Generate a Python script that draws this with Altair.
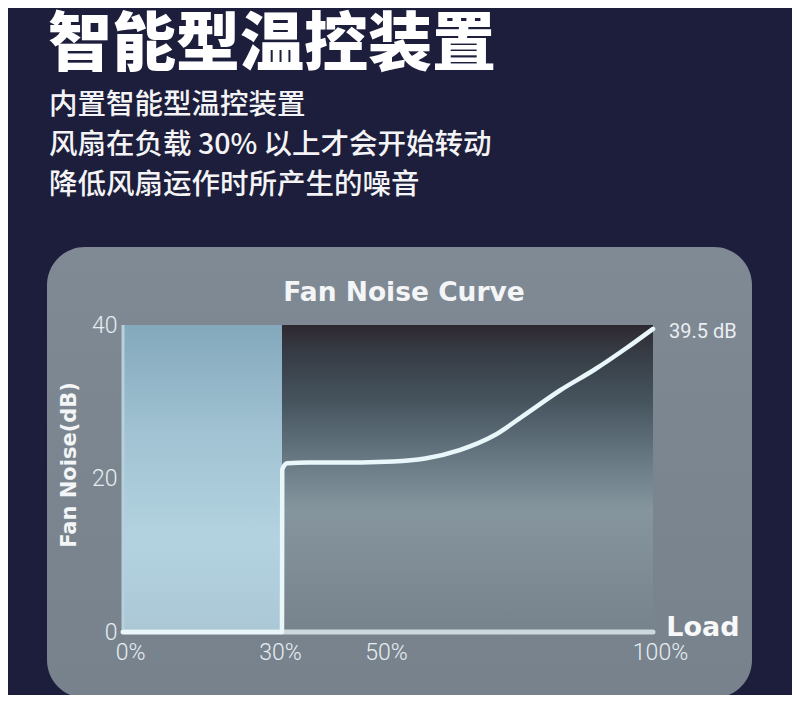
import altair as alt
import pandas as pd

# ---------------- data ----------------
title_text = "智能型温控装置"
subtitle_lines = ["内置智能型温控装置", "风扇在负载 30% 以上才会开始转动", "降低风扇运作时所产生的噪音"]
chart_title = "Fan Noise Curve"
y_title = "Fan Noise(dB)"
x_title = "Load"
end_label = "39.5 dB"

load = [0, 30, 30.05, 31, 35, 40, 45, 51, 57, 63.5, 70, 76, 82.5, 89, 95, 100]
noise = [0, 0, 21.2, 22.0, 22.1, 22.1, 22.1, 22.2, 22.6, 23.7, 25.6, 28.4, 31.5, 34.2, 37.0, 39.5]

x_ticks = [0, 30, 50, 100]
y_ticks = [0, 20, 40]

zone_start = [0, 30]
zone_end = [30, 100]
zone_top = [40, 40]

# ---------------- tables ----------------
curve = pd.DataFrame({"load": load, "noise": noise})
end_pt = pd.DataFrame({"load": [load[-1]], "noise": [noise[-1]], "lbl": [end_label]})
idle = pd.DataFrame({"x0": [zone_start[0]], "x1": [zone_end[0]], "y1": [zone_top[0]]})
active = pd.DataFrame({"x0": [zone_start[1]], "x1": [zone_end[1]], "y1": [zone_top[1]]})
base = pd.DataFrame({"x0": [0], "x1": [100], "y0": [0], "y1": [40]})
one = pd.DataFrame({"k": [0]})

W, H = 530, 307
xs = alt.Scale(domain=[0, 100], nice=False)
ys = alt.Scale(domain=[0, 40], nice=False)

label_font = "Roboto"
label_color = "#e6edf1"

x_axis = alt.Axis(values=x_ticks, labelExpr="datum.value + '%'", title=None, domain=False,
                  ticks=False, grid=False, labelFont=label_font, labelFontSize=23,
                  labelFontWeight=300, labelColor=label_color, labelPadding=9, zindex=1,
                  labelFlush=False,
                  labelOffset={"condition": {"test": "datum.value == 0 || datum.value == 100",
                                             "value": 7}, "value": -2})
y_axis = alt.Axis(values=y_ticks, title=None, domain=False, ticks=False, grid=False,
                  labelFont=label_font, labelFontSize=23, labelFontWeight=300,
                  labelColor=label_color, labelPadding=6, zindex=1)

def grad(stops):
    return alt.LinearGradient(gradient="linear", x1=0, x2=0, y1=0, y2=1,
                              stops=[alt.GradientStop(color=c, offset=o) for o, c in stops])

# panel (decoration)
panel = alt.Chart(one).mark_rect(
    cornerRadius=38,
    color=grad([(0, "#808a95"), (0.5, "#7b8590"), (1, "#77828d")])
).encode(x=alt.value(-76), x2=alt.value(629), y=alt.value(-78), y2=alt.value(373))

# zones
idle_rect = alt.Chart(idle).mark_rect(
    color=grad([(0, "#84a8bc"), (0.35, "#a0c2d2"), (0.7, "#b3d3e0"), (1, "#abc7d5")])
).encode(
    x=alt.X("x0:Q", scale=xs, axis=x_axis), x2="x1:Q",
    y=alt.Y("y1:Q", scale=ys, axis=y_axis), y2=alt.datum(0)
)
active_rect = alt.Chart(active).mark_rect(
    color=grad([(0, "#2e2830"), (0.08, "#353a43"), (0.25, "#46545e"), (0.45, "#6a7b86"),
                (0.6, "#85959e"), (0.8, "#7f8c96"), (1, "#76828c")])
).encode(
    x=alt.X("x0:Q", scale=xs, axis=x_axis), x2="x1:Q",
    y=alt.Y("y1:Q", scale=ys, axis=y_axis), y2=alt.datum(0)
)

# baseline & left axis line
x_base = alt.Chart(base).mark_rule(color="#ccd7de", strokeWidth=5, strokeCap="round").encode(
    x=alt.X("x0:Q", scale=xs, axis=x_axis), x2="x1:Q", y=alt.Y("y0:Q", scale=ys, axis=y_axis)
)
y_base = alt.Chart(base).mark_rule(color="#b7d0dc", strokeWidth=3).encode(
    x=alt.X("x0:Q", scale=xs, axis=x_axis), y=alt.Y("y0:Q", scale=ys, axis=y_axis), y2="y1:Q"
)

line = alt.Chart(curve).mark_line(
    color="#e9f7fb", strokeWidth=4.5, interpolate="monotone", strokeCap="round", strokeJoin="round"
).encode(
    x=alt.X("load:Q", scale=xs, axis=x_axis), y=alt.Y("noise:Q", scale=ys, axis=y_axis)
)

end_text = alt.Chart(end_pt).mark_text(
    align="left", baseline="middle", dx=16, dy=3, font=label_font, fontSize=20,
    fontWeight=400, color="#e9eef2"
).encode(
    x=alt.X("load:Q", scale=xs, axis=x_axis), y=alt.Y("noise:Q", scale=ys, axis=y_axis),
    text="lbl:N"
)

# texts
def txt(s, x, y, **kw):
    return alt.Chart(pd.DataFrame({"t": [s]})).mark_text(**kw).encode(
        text="t:N", x=alt.value(x), y=alt.value(y))

cjk = "Noto Sans CJK SC"
texts = [
    txt(title_text, -75, -279, align="left", baseline="middle", font=cjk, fontSize=64,
        fontWeight=900, color="#ffffff"),
]
for i, s in enumerate(subtitle_lines):
    texts.append(txt(s, -74, -220 + 40 * i, align="left", baseline="middle", font=cjk,
                     fontSize=28.5, fontWeight=500, color="#f4f4f6"))
texts += [
    txt(chart_title, 281, -32, align="center", baseline="middle", font="DejaVu Sans",
        fontSize=26.5, fontWeight="bold", color="#f3f5f6"),
    txt(y_title, -53, 140, align="center", baseline="middle", font="DejaVu Sans",
        fontSize=21, fontWeight="bold", color="#f3f5f6", angle=270),
    txt(x_title, 580, 303, align="center", baseline="middle", font="DejaVu Sans",
        fontSize=27, fontWeight="bold", color="#f7f8f9"),
]

chart = alt.layer(panel, idle_rect, active_rect, y_base, x_base, line, end_text, *texts).properties(
    width=W, height=H,
    autosize=alt.AutoSizeParams(type="none"),
    padding={"left": 115, "top": 317, "right": 139, "bottom": 63},
    background="#1c1e3b",
).configure_view(stroke=None)

chart.save("out.html", embed_options={"renderer": "svg", "actions": False})
